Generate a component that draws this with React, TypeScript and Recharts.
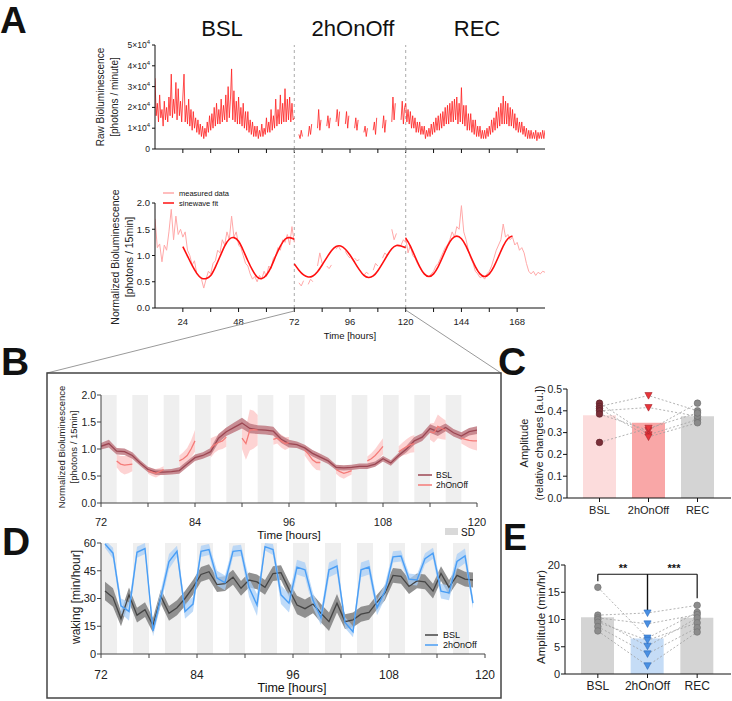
import React from "react";
import {
  ComposedChart,
  Line,
  Area,
  Bar,
  Cell,
  XAxis,
  YAxis,
  ReferenceArea,
  ReferenceLine,
} from "recharts";

const FONT = "'Liberation Sans', Arial, Helvetica, sans-serif";

// ---------- Panel A: raw bioluminescence (x10^4 photons / minute), half-hourly
const rawBsl = [
  3.4, 1.6, 2.2, 1.3, 2.6, 1.5, 1.9, 1.1, 2.3, 1.4, 2.0, 1.3,
  2.5, 1.6, 3.6, 1.5, 2.4, 1.7, 3.2, 1.4, 2.9, 1.6, 2.3, 1.3,
  2.5, 3.6, 1.3, 2.1, 1.2, 2.4, 1.1, 1.9, 0.9, 1.8, 1.0, 1.5,
  0.8, 1.4, 0.7, 1.2, 0.6, 1.1, 0.5, 1.0, 0.6, 1.3, 0.8, 1.6,
  0.9, 1.7, 1.0, 2.0, 1.1, 2.2, 1.2, 1.9, 1.2, 2.4, 1.3, 2.1,
  1.4, 2.6, 1.3, 3.0, 1.5, 2.4, 3.85, 1.4, 2.8, 1.3, 2.3, 1.2,
  2.5, 1.2, 2.0, 1.1, 2.2, 1.0, 1.8, 0.9, 1.8, 0.8, 1.4, 0.7,
  1.3, 0.6, 1.1, 0.6, 1.1, 0.5, 0.9, 0.6, 1.2, 0.6, 1.0, 0.7,
  1.5, 0.8, 1.3, 0.8, 1.9, 0.9, 1.6, 1.0, 2.4, 1.1, 1.9, 1.2,
  2.6, 1.2, 2.2, 1.3, 2.9, 1.3, 2.4, 1.4, 2.5, 1.3, 2.2, 1.4,
  1.5,
];
// recordings between the sleep-deprivation blocks (half-hour samples)
const offStarts = [74, 78, 82, 86, 90, 94, 98, 102, 106, 110, 114, 118];
const raw2h = [
  [0.7, 0.5, 0.9, 0.6],
  [0.6, 1.1, 0.7, 1.2],
  [1.0, 1.9, 0.9, 1.4],
  [1.1, 1.6, 1.0, 1.5],
  [1.3, 1.9, 1.1, 1.8],
  [1.2, 1.8, 1.0, 1.6],
  [1.0, 1.5, 0.9, 1.4],
  [0.8, 1.1, 0.6, 1.0],
  [0.9, 1.3, 0.7, 1.5],
  [1.0, 1.6, 0.8, 1.4],
  [1.3, 2.5, 1.4, 2.2],
  [1.4, 2.3, 1.2, 2.0],
];
const rawRec = [
  2.2, 1.3, 1.9, 1.2, 1.8, 1.0, 1.6, 1.0, 1.5, 0.8, 1.3, 0.8,
  1.3, 0.7, 1.1, 0.7, 1.1, 0.5, 0.9, 0.6, 1.0, 0.6, 1.2, 0.7,
  1.3, 0.8, 1.5, 0.9, 1.6, 0.9, 1.7, 1.0, 1.8, 1.1, 2.0, 1.2,
  2.1, 1.2, 2.2, 1.3, 2.3, 1.3, 2.4, 1.4, 2.5, 1.2, 2.2, 1.3,
  2.95, 1.2, 2.1, 1.1, 2.1, 0.9, 1.7, 0.9, 1.7, 0.8, 1.4, 0.7,
  1.4, 0.6, 1.1, 0.6, 1.1, 0.5, 0.9, 0.5, 0.9, 0.5, 1.0, 0.6,
  1.1, 0.7, 1.4, 0.8, 1.5, 0.9, 1.8, 1.0, 2.0, 1.1, 2.2, 1.2,
  2.55, 1.2, 2.3, 1.2, 2.2, 1.1, 2.0, 1.1, 1.9, 1.0, 1.7, 0.9,
  1.5, 0.8, 1.3, 0.8, 1.3, 0.7, 1.1, 0.6, 1.0, 0.5, 0.9, 0.5,
  0.9, 0.5, 0.8, 0.5, 0.9, 0.4, 0.8, 0.5, 0.8, 0.5, 0.9, 0.5,
  0.9,
];

// ---------- Panel A: normalized bioluminescence, hourly
const normBsl = [
  1.7, 1.15, 1.22, 0.88, 1.2, 1.1, 1.45, 1.88, 1.3, 1.75,
  1.4, 1.5, 1.35, 1.45, 1.1, 1.0, 0.82, 0.9, 0.65, 0.6,
  0.55, 0.38, 0.55, 0.7, 0.65, 0.85, 0.9, 1.1, 1.05, 1.3,
  1.2, 1.45, 1.3, 1.75, 1.35, 1.45, 1.2, 1.15, 1.0, 0.85,
  0.8, 0.65, 0.55, 0.6, 0.5, 0.62, 0.55, 0.7, 0.6, 0.8,
  0.75, 0.95, 1.0, 1.15, 1.1, 1.3, 1.25, 1.4, 1.2, 1.55,
  1.25,
];
const norm2h = [
  [0.48, 0.42, 0.52],
  [0.45, 0.55, 0.5],
  [0.8, 1.05, 0.85],
  [0.8, 0.75, 0.82],
  [1.12, 1.18, 1.1],
  [1.08, 1.0, 0.95],
  [0.95, 0.9, 0.92],
  [0.62, 0.68, 0.65],
  [0.72, 0.85, 0.8],
  [0.95, 1.05, 1.0],
  [1.5, 1.3, 1.42],
  [1.2, 1.3, 1.25],
];
const normRec = [
  1.35, 1.05, 1.2, 1.0, 0.95, 0.85, 0.78, 0.7, 0.65, 0.62,
  0.6, 0.65, 0.7, 0.8, 0.85, 0.95, 1.05, 1.15, 1.2, 1.3,
  1.45, 1.35, 1.55, 1.5, 1.95, 1.45, 1.3, 1.1, 0.95, 0.85,
  0.7, 0.65, 0.58, 0.6, 0.55, 0.65, 0.7, 0.8, 0.95, 1.1,
  1.2, 1.3, 1.6, 1.35, 1.4, 1.3, 1.35, 1.2, 1.25, 1.1,
  1.15, 1.05, 0.85, 0.7, 0.65, 0.7, 0.62, 0.68, 0.65, 0.7,
  0.68,
];
// sinewave fits, read every 2 h
const fitBsl = [
  1.17, 0.99, 0.81, 0.66, 0.57, 0.56, 0.62, 0.78, 0.98, 1.18, 1.31, 1.34, 1.27,
  1.1, 0.9, 0.72, 0.59, 0.56, 0.63, 0.78, 0.99, 1.18, 1.31, 1.34, 1.31,
];
const fit2h = [
  0.84, 0.72, 0.63, 0.59, 0.61, 0.69, 0.82, 0.96, 1.09, 1.17, 1.18, 1.12, 1.01,
  0.87, 0.73, 0.62, 0.58, 0.61, 0.71, 0.85, 1.0, 1.13, 1.19, 1.18, 1.15,
];
const fitRec = [
  1.33, 1.18, 0.98, 0.79, 0.65, 0.6, 0.65, 0.79, 0.98, 1.18, 1.32, 1.37, 1.32,
  1.18, 0.98, 0.79, 0.65, 0.6, 0.65, 0.79, 0.98, 1.18, 1.32, 1.37,
];

// ---------- Panel B: zoomed normalized bioluminescence (mean, SD)
const sdStarts = [72, 76, 80, 84, 88, 92, 96, 100, 104, 108, 112, 116];
const bBslMean = [
  1.05, 1.1, 0.96, 0.95, 0.88, 0.74, 0.62, 0.57, 0.57, 0.58,
  0.6, 0.72, 0.84, 0.88, 0.95, 1.2, 1.32, 1.4, 1.48, 1.38,
  1.36, 1.35, 1.33, 1.18, 1.1, 1.08, 1.02, 0.92, 0.85, 0.78,
  0.66, 0.65, 0.66, 0.68, 0.68, 0.72, 0.82, 0.74, 0.88, 1.0,
  1.15, 1.22, 1.38, 1.32, 1.4, 1.3, 1.24, 1.32, 1.35,
];
const bBslSd = [
  0.06, 0.07, 0.06, 0.06, 0.06, 0.05, 0.05, 0.05, 0.05, 0.05,
  0.06, 0.06, 0.06, 0.06, 0.07, 0.08, 0.08, 0.09, 0.1, 0.09,
  0.08, 0.08, 0.08, 0.07, 0.07, 0.06, 0.06, 0.06, 0.06, 0.06,
  0.05, 0.05, 0.05, 0.05, 0.05, 0.05, 0.05, 0.05, 0.05, 0.06,
  0.07, 0.07, 0.08, 0.08, 0.07, 0.07, 0.07, 0.07, 0.07,
];
const b2hMean = [
  [0.78, 0.72, 0.7, 0.71, 0.72],
  [0.6, 0.57, 0.55, 0.58, 0.62],
  [0.78, 0.82, 0.88, 1.0, 1.15],
  [1.02, 1.08, 1.12, 1.15, 1.22],
  [1.2, 1.1, 1.35, 1.36, 1.35],
  [1.18, 1.2, 1.15, 1.1, 1.12],
  [0.98, 0.9, 0.8, 0.75, 0.75],
  [0.62, 0.58, 0.55, 0.57, 0.6],
  [0.78, 0.82, 0.88, 0.96, 1.05],
  [0.95, 1.0, 1.04, 1.08, 1.1],
  [1.32, 1.3, 1.42, 1.38, 1.35],
  [1.2, 1.18, 1.16, 1.15, 1.15],
];
const b2hSd = [
  [0.12, 0.15, 0.17, 0.16, 0.13],
  [0.06, 0.07, 0.08, 0.07, 0.06],
  [0.1, 0.12, 0.14, 0.16, 0.2],
  [0.18, 0.15, 0.14, 0.15, 0.18],
  [0.2, 0.3, 0.38, 0.35, 0.28],
  [0.1, 0.1, 0.12, 0.12, 0.1],
  [0.1, 0.12, 0.12, 0.14, 0.15],
  [0.08, 0.1, 0.1, 0.08, 0.07],
  [0.08, 0.1, 0.12, 0.14, 0.15],
  [0.1, 0.12, 0.14, 0.15, 0.16],
  [0.15, 0.18, 0.22, 0.2, 0.18],
  [0.1, 0.12, 0.14, 0.16, 0.18],
];

// ---------- Panel D: waking (min/hour), hourly bins from 72.5 h
const wakeBsl = [
  34, 30.5, 19, 32, 21, 24, 15.5, 31, 22, 25,
  30, 36, 43, 44.5, 37.5, 38, 41.5, 35.5, 40, 39,
  36, 43.5, 44, 35, 26.5, 24.5, 27, 22, 17.5, 27.5,
  17.5, 18.5, 21.5, 22.5, 28, 33, 42.5, 42, 36.5, 39.5,
  39, 34, 43.5, 36, 42.5, 40.5, 40,
];
const wakeBslSd = [
  5, 5, 4, 4, 4, 4, 4, 4, 4, 4,
  4, 4, 4, 4, 4, 4, 4, 4, 4, 4,
  4, 4, 4, 4, 5, 5, 5, 5, 5, 5,
  4, 4, 4, 4, 4, 4, 4, 4, 4, 4,
  4, 4, 4, 4, 4, 4, 4,
];
const wake2h = [
  59.5, 54.5, 26, 23, 55, 57, 12.5, 31, 50, 55.5,
  23, 27, 55.5, 56.5, 41, 38.5, 55.5, 56, 36, 26.5,
  58, 56.5, 32, 27.5, 47, 45.5, 29, 19.5, 45.5, 47.5,
  17, 12, 45.5, 47, 25, 34, 52.5, 53, 40.5, 40,
  51.5, 54.5, 34, 33, 50, 53, 27.5,
];
const wake2hSd = [
  2, 3, 4, 5, 3, 3, 3, 4, 4, 3,
  4, 4, 3, 3, 4, 4, 3, 3, 5, 6,
  2, 3, 5, 5, 4, 4, 4, 4, 4, 4,
  3, 3, 4, 4, 4, 4, 3, 3, 3, 3,
  3, 3, 4, 4, 4, 4, 3,
];

// ---------- Panels C and E: amplitudes
const groups = ["BSL", "2hOnOff", "REC"];
const ampCMean = [0.38, 0.345, 0.375];
const ampCSubjects = [
  [0.435, 0.29, 0.36],
  [0.42, 0.47, 0.4],
  [0.41, 0.28, 0.345],
  [0.4, 0.415, 0.375],
  [0.385, 0.31, 0.435],
  [0.255, 0.32, 0.39],
];
const ampEMean = [10.4, 6.5, 10.3];
const ampESubjects = [
  [15.9, 6.6, 11.3],
  [10.8, 11.2, 12.6],
  [10.3, 9.2, 10.9],
  [10.0, 5.1, 10.3],
  [9.5, 6.2, 9.4],
  [8.7, 3.7, 8.5],
  [7.9, 1.5, 7.7],
];
const brackets = [
  { from: "BSL", to: "2hOnOff", y: 18.3, fromY: 17, toY: 11.6, stars: "**" },
  { from: "2hOnOff", to: "REC", y: 18.3, fromY: 11.6, toY: 13.9, stars: "***" },
];

// ---------- tables built from the arrays
type Row = { [k: string]: any };
const series = (start: number, step: number, vals: number[], key = "v"): Row[] =>
  vals.map((v, i) => ({ t: start + i * step, [key]: v }));

function segmented(before: Row[], segs: number[][], step: number, after: Row[]): Row[] {
  const out: Row[] = [...before, { t: 73, v: null }];
  segs.forEach((seg, i) => {
    out.push(...series(offStarts[i], step, seg));
    if (i < segs.length - 1) out.push({ t: offStarts[i] + 2.75, v: null });
  });
  return [...out, ...after];
}

const rawRows = segmented(series(12, 0.5, rawBsl), raw2h, 0.5, series(120, 0.5, rawRec));
const normRows = segmented(series(12, 1, normBsl), norm2h, 1, series(120, 1, normRec));

const bandRows = (start: number, step: number, m: number[], sd: number[]) =>
  m.map((v, i) => ({ t: start + i * step, m: v, band: [v - sd[i], v + sd[i]] }));

const bBslRows = bandRows(72, 1, bBslMean, bBslSd);
const b2hRows: Row[] = [];
b2hMean.forEach((seg, i) => {
  b2hRows.push(...bandRows(offStarts[i], 0.5, seg, b2hSd[i]));
  if (i < b2hMean.length - 1) b2hRows.push({ t: offStarts[i] + 2.75, m: null, band: null });
});
const dBslRows = bandRows(72.5, 1, wakeBsl, wakeBslSd);
const d2hRows = bandRows(72.5, 1, wake2h, wake2hSd);

const ampRows = (means: number[], subjects: number[][]) =>
  groups.map((g, gi) => {
    const r: Row = { g, mean: means[gi] };
    subjects.forEach((s, si) => (r[`s${si}`] = s[gi]));
    return r;
  });
const cRows = ampRows(ampCMean, ampCSubjects);
const eRows = ampRows(ampEMean, ampESubjects);

// ---------- layout helpers
const M = { top: 10, right: 10, bottom: 0, left: 0 };
function frame(x0: number, y0: number, x1: number, y1: number, yW: number, xH: number) {
  return {
    left: x0 - yW,
    top: y0 - M.top,
    width: x1 - x0 + yW + M.right,
    height: y1 - y0 + M.top + xH,
    yW,
    xH,
  };
}
type Frame = ReturnType<typeof frame>;
const Placed = ({ f, children }: { f: Frame; children: React.ReactNode }) => (
  <div style={{ position: "absolute", left: f.left, top: f.top }}>{children}</div>
);

const fA1 = frame(155, 45, 545, 149, 50, 12);
const fA2 = frame(155, 203, 545, 308, 50, 24);
const fB = frame(101, 395, 477, 503, 45, 30);
const fD = frame(101, 543, 485, 654, 45, 32);
const fC = frame(567, 389, 731, 498, 40, 24);
const fE = frame(565, 565, 731, 674, 40, 24);

const xA = (t: number) => 155 + ((t - 12) / 168) * 390;
const hourTicksA = [24, 36, 48, 60, 72, 84, 96, 108, 120, 132, 144, 156, 168];
const hourTicksB = [72, 78, 84, 90, 96, 102, 108, 114, 120];

function ExpTick({ x, y, payload }: any) {
  const v = payload.value;
  return (
    <text x={x} y={y} dy={3} textAnchor="end" fontSize={8.5} fontFamily={FONT} fill="#222">
      {v === 0 ? (
        "0"
      ) : (
        <>
          {v}×10
          <tspan dy={-4} fontSize={6}>
            4
          </tspan>
        </>
      )}
    </text>
  );
}

const tickStyle = (size: number) => ({ fontSize: size, fill: "#222", fontFamily: FONT });

// ---------- Panel A
function PanelARaw() {
  return (
    <Placed f={fA1}>
      <ComposedChart width={fA1.width} height={fA1.height} margin={M}>
        <XAxis
          dataKey="t"
          type="number"
          domain={[12, 180]}
          ticks={hourTicksA}
          interval={0}
          tickFormatter={() => ""}
          tickSize={4}
          height={fA1.xH}
          stroke="#111"
          allowDataOverflow
        />
        <YAxis
          type="number"
          domain={[0, 5]}
          ticks={[0, 1, 2, 3, 4, 5]}
          interval={0}
          width={fA1.yW}
          tickSize={3}
          tickMargin={2}
          stroke="#111"
          tick={(p: any) => <ExpTick {...p} />}
        />
        <ReferenceLine x={72} stroke="#aaa" strokeDasharray="3 3" />
        <ReferenceLine x={120} stroke="#aaa" strokeDasharray="3 3" />
        <Line
          data={rawRows}
          dataKey="v"
          type="linear"
          stroke="#ff1f1f"
          strokeWidth={0.8}
          dot={false}
          isAnimationActive={false}
        />
      </ComposedChart>
    </Placed>
  );
}

function PanelANorm() {
  return (
    <Placed f={fA2}>
      <ComposedChart width={fA2.width} height={fA2.height} margin={M}>
        <XAxis
          dataKey="t"
          type="number"
          domain={[12, 180]}
          ticks={hourTicksA}
          interval={0}
          tickFormatter={(v) => (v % 24 === 0 ? String(v) : "")}
          tickSize={4}
          tickMargin={6}
          height={fA2.xH}
          stroke="#111"
          tick={tickStyle(9.5)}
          allowDataOverflow
        />
        <YAxis
          type="number"
          domain={[0, 2]}
          ticks={[0, 0.5, 1, 1.5, 2]}
          interval={0}
          tickFormatter={(v) => v.toFixed(1)}
          width={fA2.yW}
          tickSize={3}
          tickMargin={2}
          stroke="#111"
          tick={tickStyle(9.5)}
        />
        <ReferenceLine x={72} stroke="#aaa" strokeDasharray="3 3" />
        <ReferenceLine x={120} stroke="#aaa" strokeDasharray="3 3" />
        <Line data={normRows} dataKey="v" type="linear" stroke="#ffa8a8" strokeWidth={1} dot={false} isAnimationActive={false} />
        {[series(24, 2, fitBsl), series(72, 2, fit2h), series(120, 2, fitRec)].map((d, i) => (
          <Line
            key={i}
            data={d}
            dataKey="v"
            type="natural"
            stroke="#ff1010"
            strokeWidth={1.6}
            dot={false}
            isAnimationActive={false}
          />
        ))}
      </ComposedChart>
    </Placed>
  );
}

// ---------- Panel B
function PanelB() {
  return (
    <Placed f={fB}>
      <ComposedChart width={fB.width} height={fB.height} margin={M}>
        <XAxis
          dataKey="t"
          type="number"
          domain={[72, 120]}
          ticks={hourTicksB}
          interval={0}
          tickFormatter={(v) => (v % 12 === 0 ? String(v) : "")}
          tickSize={4}
          tickMargin={11}
          height={fB.xH}
          stroke="#444"
          tick={tickStyle(11)}
          allowDataOverflow
        />
        <YAxis
          type="number"
          domain={[0, 2]}
          ticks={[0, 0.5, 1, 1.5, 2]}
          interval={0}
          tickFormatter={(v) => v.toFixed(1)}
          width={fB.yW}
          tickSize={4}
          tickMargin={1}
          stroke="#444"
          tick={tickStyle(10.5)}
          allowDataOverflow
        />
        {sdStarts.map((s) => (
          <ReferenceArea key={s} x1={s} x2={s + 2} y1={0} y2={2} fill="#efefef" fillOpacity={1} stroke="none" />
        ))}
        <Area data={b2hRows} dataKey="band" type="linear" stroke="none" fill="#fcc8c8" fillOpacity={0.8} isAnimationActive={false} />
        <Area data={bBslRows} dataKey="band" type="linear" stroke="none" fill="#c07a83" fillOpacity={0.85} isAnimationActive={false} />
        <Line data={bBslRows} dataKey="m" type="linear" stroke="#9c4753" strokeWidth={1.3} dot={false} isAnimationActive={false} />
        <Line data={b2hRows} dataKey="m" type="linear" stroke="#f47b78" strokeWidth={1.3} dot={false} isAnimationActive={false} />
      </ComposedChart>
    </Placed>
  );
}

// ---------- Panel D
function PanelD() {
  return (
    <Placed f={fD}>
      <ComposedChart width={fD.width} height={fD.height} margin={M}>
        <XAxis
          dataKey="t"
          type="number"
          domain={[72, 120]}
          ticks={hourTicksB}
          interval={0}
          tickFormatter={(v) => (v % 12 === 0 ? String(v) : "")}
          tickSize={4}
          tickMargin={12}
          height={fD.xH}
          stroke="#444"
          tick={tickStyle(12)}
          allowDataOverflow
        />
        <YAxis
          type="number"
          domain={[0, 60]}
          ticks={[0, 15, 30, 45, 60]}
          interval={0}
          width={fD.yW}
          tickSize={4}
          tickMargin={1}
          stroke="#444"
          tick={tickStyle(11)}
          allowDataOverflow
        />
        {sdStarts.map((s) => (
          <ReferenceArea key={s} x1={s} x2={s + 2} y1={0} y2={60} fill="#efefef" fillOpacity={1} stroke="none" />
        ))}
        <Area data={dBslRows} dataKey="band" type="linear" stroke="none" fill="#858585" fillOpacity={0.9} isAnimationActive={false} />
        <Line data={dBslRows} dataKey="m" type="linear" stroke="#454545" strokeWidth={1.3} dot={false} isAnimationActive={false} />
        <Area data={d2hRows} dataKey="band" type="linear" stroke="none" fill="#a9cff7" fillOpacity={0.75} isAnimationActive={false} />
        <Line data={d2hRows} dataKey="m" type="linear" stroke="#4a9ef5" strokeWidth={1.4} dot={false} isAnimationActive={false} />
      </ComposedChart>
    </Placed>
  );
}

// ---------- Panels C and E
type Marker = { shape: "circle" | "tri"; fill: string; stroke: string };
const markersC: Marker[] = [
  { shape: "circle", fill: "#7a2f38", stroke: "#5a1c25" },
  { shape: "tri", fill: "#e8353b", stroke: "#a8242a" },
  { shape: "circle", fill: "#8a8a8a", stroke: "#6a6a6a" },
];
const markersE: Marker[] = [
  { shape: "circle", fill: "#8c8c8c", stroke: "#6e6e6e" },
  { shape: "tri", fill: "#4a90e2", stroke: "#2b6cbf" },
  { shape: "circle", fill: "#8c8c8c", stroke: "#6e6e6e" },
];
const makeDot = (marks: Marker[]) => (p: any) => {
  const key = `${p.dataKey}-${p.index}`;
  if (p.cx == null || p.cy == null) return <g key={key} />;
  const m = marks[p.index];
  if (m.shape === "tri")
    return (
      <polygon
        key={key}
        points={`${p.cx - 3.6},${p.cy - 3} ${p.cx + 3.6},${p.cy - 3} ${p.cx},${p.cy + 3.6}`}
        fill={m.fill}
        stroke={m.stroke}
        strokeWidth={0.6}
      />
    );
  return <circle key={key} cx={p.cx} cy={p.cy} r={3.3} fill={m.fill} stroke={m.stroke} strokeWidth={0.6} />;
};

function AmpChart({
  f,
  rows,
  n,
  colors,
  marks,
  domain,
  ticks,
  fmt,
  tickFont,
  labelFont,
  tickMargin,
  children,
}: {
  f: Frame;
  rows: Row[];
  n: number;
  colors: string[];
  marks: Marker[];
  domain: [number, number];
  ticks: number[];
  fmt: (v: number) => string;
  tickFont: number;
  labelFont: number;
  tickMargin: number;
  children?: React.ReactNode;
}) {
  const dot = makeDot(marks);
  return (
    <Placed f={f}>
      <ComposedChart width={f.width} height={f.height} margin={M} data={rows}>
        <XAxis
          dataKey="g"
          type="category"
          interval={0}
          padding={{ left: 8, right: 9 }}
          tickSize={4}
          tickMargin={tickMargin}
          height={f.xH}
          stroke="#111"
          tick={tickStyle(labelFont)}
        />
        <YAxis
          type="number"
          domain={domain}
          ticks={ticks}
          interval={0}
          tickFormatter={fmt}
          width={f.yW}
          tickSize={4}
          tickMargin={1}
          stroke="#111"
          tick={tickStyle(tickFont)}
          allowDataOverflow
        />
        <Bar dataKey="mean" barSize={33} isAnimationActive={false}>
          {colors.map((c, i) => (
            <Cell key={i} fill={c} />
          ))}
        </Bar>
        {Array.from({ length: n }, (_, si) => (
          <Line
            key={si}
            dataKey={`s${si}`}
            type="linear"
            stroke="#a0a0a0"
            strokeWidth={0.8}
            strokeDasharray="2 2"
            dot={dot}
            isAnimationActive={false}
          />
        ))}
        {children}
      </ComposedChart>
    </Placed>
  );
}

function PanelC() {
  return (
    <AmpChart
      f={fC}
      rows={cRows}
      n={ampCSubjects.length}
      colors={["#fcdcdc", "#f9a7a7", "#d4d4d4"]}
      marks={markersC}
      domain={[0, 0.5]}
      ticks={[0, 0.1, 0.2, 0.3, 0.4, 0.5]}
      fmt={(v) => v.toFixed(1)}
      tickFont={10.5}
      labelFont={11}
      tickMargin={4}
    />
  );
}

function PanelE() {
  return (
    <AmpChart
      f={fE}
      rows={eRows}
      n={ampESubjects.length}
      colors={["#d4d4d4", "#c5dcf6", "#d4d4d4"]}
      marks={markersE}
      domain={[0, 20]}
      ticks={[0, 5, 10, 15, 20]}
      fmt={(v) => String(v)}
      tickFont={11}
      labelFont={12}
      tickMargin={3}
    >
      {brackets.flatMap((b, i) => [
        <ReferenceLine key={`h${i}`} segment={[{ x: b.from, y: b.y }, { x: b.to, y: b.y }]} stroke="#111" strokeWidth={1.2} />,
        <ReferenceLine key={`a${i}`} segment={[{ x: b.from, y: b.fromY }, { x: b.from, y: b.y }]} stroke="#111" strokeWidth={1.2} />,
        <ReferenceLine key={`b${i}`} segment={[{ x: b.to, y: b.toY }, { x: b.to, y: b.y }]} stroke="#111" strokeWidth={1.2} />,
      ])}
    </AmpChart>
  );
}

// ---------- figure-level text and decorations
const VLabel = ({ x, y, size, children }: { x: number; y: number; size: number; children: React.ReactNode }) => (
  <text
    transform={`translate(${x},${y}) rotate(-90)`}
    textAnchor="middle"
    dominantBaseline="central"
    fontSize={size}
    fontFamily={FONT}
    fill="#222"
  >
    {children}
  </text>
);
const T = ({ x, y, size, anchor = "start", weight = 400, children }: any) => (
  <text x={x} y={y} fontSize={size} fontFamily={FONT} fill="#111" textAnchor={anchor} fontWeight={weight}>
    {children}
  </text>
);

function Overlay() {
  return (
    <svg width={732} height={701} style={{ position: "absolute", left: 0, top: 0, pointerEvents: "none" }}>
      {/* panel letters */}
      <T x={0} y={33} size={37} weight={700}>A</T>
      <T x={1} y={375} size={39} weight={700}>B</T>
      <T x={498} y={375} size={39} weight={700}>C</T>
      <T x={2} y={555} size={39} weight={700}>D</T>
      <T x={503} y={550} size={36} weight={700}>E</T>

      {/* condition titles */}
      <T x={222} y={36} size={22} anchor="middle">BSL</T>
      <T x={353} y={36} size={22} anchor="middle">2hOnOff</T>
      <T x={477} y={36} size={22} anchor="middle">REC</T>

      {/* dashed condition boundaries across the gap between A plots */}
      {[72, 120].map((t) => (
        <line key={t} x1={xA(t)} x2={xA(t)} y1={149} y2={203} stroke="#aaa" strokeDasharray="3 3" />
      ))}

      {/* zoom lines and B/D frame */}
      <line x1={xA(72)} y1={311} x2={47} y2={373} stroke="#9a9a9a" />
      <line x1={xA(120)} y1={310} x2={501} y2={373} stroke="#9a9a9a" />
      <rect x={47} y={373} width={454} height={325} fill="none" stroke="#444" strokeWidth={1.5} />

      {/* axis titles */}
      <VLabel x={100} y={97} size={10}>Raw Bioluminescence</VLabel>
      <VLabel x={114} y={97} size={10}>[photons / minute]</VLabel>
      <VLabel x={115} y={257} size={10.5}>Normalized Bioluminescence</VLabel>
      <VLabel x={129} y={257} size={10.5}>[photons / 15min]</VLabel>
      <T x={350} y={339} size={9.5} anchor="middle">Time [hours]</T>

      <VLabel x={61} y={447} size={9.5}>Normalized Bioluminescence</VLabel>
      <VLabel x={73} y={447} size={9.5}>[photons / 15min]</VLabel>
      <T x={289} y={539} size={11.5} anchor="middle">Time [hours]</T>

      <VLabel x={76} y={597} size={12}>waking [min/hour]</VLabel>
      <T x={292} y={692} size={12.5} anchor="middle">Time [hours]</T>

      <VLabel x={524} y={443} size={11}>Amplitude</VLabel>
      <VLabel x={539} y={443} size={11}>(relative changes [a.u.])</VLabel>
      <VLabel x={541} y={617} size={11.5}>Amplitude (min/hr)</VLabel>

      {/* legends */}
      <line x1={163} x2={174} y1={193} y2={193} stroke="#ffa8a8" strokeWidth={1.5} />
      <T x={179} y={195.5} size={7.5}>measured data</T>
      <line x1={163} x2={174} y1={203} y2={203} stroke="#ff1010" strokeWidth={1.5} />
      <T x={179} y={205.5} size={7.5}>sinewave fit</T>

      <line x1={418} x2={432} y1={475} y2={475} stroke="#9c4753" strokeWidth={1.5} />
      <T x={436} y={478} size={8.5}>BSL</T>
      <line x1={418} x2={432} y1={485} y2={485} stroke="#f47b78" strokeWidth={1.5} />
      <T x={436} y={488} size={8.5}>2hOnOff</T>

      <rect x={445} y={528} width={13} height={7} fill="#d9d9d9" />
      <T x={461} y={536} size={10}>SD</T>

      <line x1={425} x2={438} y1={635} y2={635} stroke="#454545" strokeWidth={1.5} />
      <T x={443} y={638} size={9}>BSL</T>
      <line x1={425} x2={438} y1={645} y2={645} stroke="#4a9ef5" strokeWidth={1.5} />
      <T x={443} y={648} size={9}>2hOnOff</T>

      {/* significance stars */}
      <T x={623} y={572} size={11} anchor="middle" weight={700}>{brackets[0].stars}</T>
      <T x={674} y={572} size={11} anchor="middle" weight={700}>{brackets[1].stars}</T>
    </svg>
  );
}

export default function App() {
  return (
    <div
      style={{
        position: "absolute",
        left: 0,
        top: 0,
        width: 732,
        height: 701,
        overflow: "hidden",
        background: "#fff",
        fontFamily: FONT,
      }}
    >
      <PanelARaw />
      <PanelANorm />
      <PanelB />
      <PanelD />
      <PanelC />
      <PanelE />
      <Overlay />
    </div>
  );
}
